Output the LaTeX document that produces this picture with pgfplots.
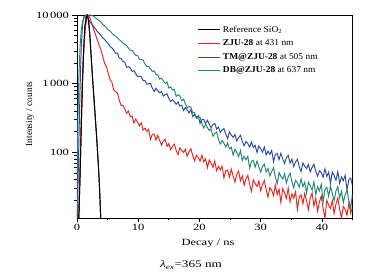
\documentclass[border=0pt]{standalone}
\usepackage{fontspec}
\setmainfont{Liberation Serif}
\newfontfamily\widefont[FakeStretch=1.32]{Liberation Serif}
\newfontfamily\legfont[FakeStretch=1.05]{Liberation Serif}
\usepackage{pgfplots}
\pgfplotsset{compat=1.18}
\definecolor{cred}{RGB}{232,36,32}
\definecolor{cblue}{RGB}{44,72,160}
\definecolor{cteal}{RGB}{34,134,118}
\begin{document}
\begin{tikzpicture}
\useasboundingbox (-77pt,-58pt) rectangle (303pt,218pt);
\begin{axis}[
  at={(0pt,0pt)}, anchor=south west,
  scale only axis, width=275.5pt, height=203pt,
  ymode=log,
  xmin=0, xmax=45, ymin=11, ymax=10000,
  xtick={0,10,20,30,40}, xticklabels={0,10,20,30,40},
  minor xtick={5,15,25,35,45},
  ytick={100,1000,10000}, yticklabels={100,1\,000,10\,000},
  minor ytick={20,30,40,50,60,70,80,90,200,300,400,500,600,700,800,900,2000,3000,4000,5000,6000,7000,8000,9000},
  tick align=outside, tick pos=left,
  major tick length=4.5pt, minor tick length=2.5pt,
  every tick/.style={black, line width=0.7pt},
  axis line style={line width=0.9pt},
  ticklabel style={font=\widefont\fontsize{9.5}{10}\selectfont},
  xticklabel style={inner sep=1.5pt},
  xlabel={Decay / ns}, ylabel={Intensity / counts},
  xlabel style={font=\widefont\fontsize{9.5}{11}\selectfont, at={(axis description cs:0.4755,-0.123)}, anchor=center},
  ylabel style={font=\fontsize{9.4}{11}\selectfont, at={(axis description cs:-0.1706,0.512)}, anchor=center},
  legend style={draw=none, fill=none, at={(0.4392,0.9507)}, anchor=north west, inner sep=0pt, outer sep=0pt, row sep=4pt, column sep=1pt, font=\legfont\fontsize{9}{10}\selectfont, nodes={inner sep=1pt}},
  legend cell align=left,
  legend image code/.code={\draw[#1, line width=1pt] (0pt,0pt) -- (22pt,0pt);},
  every axis plot/.append style={line width=0.95pt},
]
\addplot[black] coordinates {(0.3,11) (0.5,45) (0.7,250) (0.9,1100) (1.1,3300) (1.3,6800) (1.5,9300) (1.7,10000) (1.9,8200) (2.1,5000) (2.3,2600) (2.6,1000) (2.9,420) (3.2,170) (3.5,63) (3.7,28) (3.87,11) (3.95,8)};
\addlegendentry{Reference SiO\textsubscript{2}}
\addplot[cred] coordinates {(0.25,11) (0.4,30) (0.6,150) (0.8,700) (1.0,2000) (1.2,4200) (1.4,6800) (1.6,8800) (1.8,10000) (2.0,9600) (2.2,8600) (2.4,7500) (2.6,6700) (2.8,5900)
(3.0,5310) (3.3,4350) (3.6,3690) (3.9,3120) (4.2,2500) (4.5,1970) (4.8,1770) (5.1,1415) (5.4,1155) (5.7,1052) (6.0,803) (6.3,769) (6.6,722) (6.9,576) (7.2,482) (7.5,480) (7.8,430) (8.1,370) (8.4,400) (8.7,329) (9.0,337) (9.3,268) (9.6,304) (9.9,272) (10.2,242) (10.5,268) (10.8,210) (11.1,224) (11.4,201) (11.7,216) (12.0,153) (12.3,182) (12.6,184) (12.9,150) (13.2,176) (13.5,149) (13.8,127) (14.1,145) (14.4,155) (14.7,122) (15.0,134) (15.3,109) (15.6,121) (15.9,131) (16.2,106) (16.5,92) (16.8,116) (17.1,106) (17.4,98.9) (17.7,110) (18.0,87.2) (18.3,101.9) (18.6,112.8) (18.9,88.9) (19.2,75.0) (19.5,90.3) (19.8,84.3) (20.1,74.0) (20.4,90.8) (20.7,72.7) (21.0,80.1) (21.3,59.3) (21.6,77.3) (21.9,68.9) (22.2,60.2) (22.5,74.2) (22.8,53.6) (23.1,62.2) (23.4,55.2) (23.7,62.6) (24.0,42.3) (24.3,53.5) (24.6,55.1) (24.9,43.1) (25.2,56.5) (25.5,45.5) (25.8,36.8) (26.1,47.6) (26.4,53.0) (26.7,38.3) (27.0,45.4) (27.3,33.1) (27.6,40.5) (27.9,46.0) (28.2,33.9) (28.5,27.0) (28.8,39.7) (29.1,34.9) (29.4,31.7) (29.7,37.9) (30.0,27.5) (30.3,33.8) (30.6,38.6) (30.9,28.7) (31.2,22.2) (31.5,30.5) (31.8,28.1) (32.1,23.3) (32.4,33.0) (32.7,24.2) (33.0,29.1) (33.3,18.6) (33.6,29.4) (33.9,25.4) (34.2,21.2) (34.5,30.1) (34.8,18.9) (35.1,24.7) (35.4,21.3) (35.7,26.5) (36.0,14.6) (36.3,22.2) (36.6,24.0) (36.9,17.7) (37.2,25.0) (37.5,19.5) (37.8,14.5) (38.1,21.6) (38.4,25.5) (38.7,16.5) (39.0,21.3) (39.3,13.8) (39.6,19.0) (39.9,22.9) (40.2,15.2) (40.5,10.9) (40.8,19.9) (41.1,17.0) (41.4,15.1) (41.7,19.8) (42.0,12.8) (42.3,17.7) (42.6,21.5) (42.9,14.8) (43.2,10.9) (43.5,16.2) (43.8,14.8) (44.1,12.0) (44.4,18.1) (44.7,12.8) (45.0,16.0)};
\addlegendentry{\textbf{ZJU-28} at 431 nm}
\addplot[cblue] coordinates {(0.05,11) (0.15,30) (0.3,130) (0.5,850) (0.7,3500) (0.9,7000) (1.1,9300) (1.3,10000) (1.6,9400) (2.0,8300) (2.5,7200)
(3.0,6290) (3.3,5760) (3.6,5441) (3.9,5026) (4.2,4637) (4.5,4422) (4.8,4052) (5.1,3827) (5.4,3475) (5.7,3315) (6.0,3056) (6.3,2768) (6.6,2789) (6.9,2363) (7.2,2324) (7.5,2099) (7.8,2053) (8.1,1729) (8.4,1763) (8.7,1697) (9.0,1507) (9.3,1542) (9.6,1390) (9.9,1263) (10.2,1281) (10.5,1262) (10.8,1108) (11.1,1108) (11.4,983) (11.7,993) (12.0,1007) (12.3,861) (12.6,768) (12.9,856) (13.2,785) (13.5,734) (13.8,766) (14.1,657) (14.4,691) (14.7,710) (15.0,610) (15.3,547) (15.6,583) (15.9,547) (16.2,499) (16.5,540) (16.8,471) (17.1,482) (17.4,406) (17.7,450) (18.0,415) (18.3,373) (18.6,417) (18.9,331) (19.2,355) (19.5,321) (19.8,340) (20.1,262) (20.4,299) (20.7,302) (21.0,260) (21.3,293) (21.6,256) (21.9,228) (22.2,253) (22.5,263) (22.8,218) (23.1,232) (23.4,195) (23.7,211) (24.0,221) (24.3,184) (24.6,158) (24.9,197) (25.2,178) (25.5,165) (25.8,181) (26.1,146) (26.4,164) (26.7,177) (27.0,144) (27.3,124) (27.6,143) (27.9,134) (28.2,119) (28.5,141) (28.8,117) (29.1,126) (29.4,99.3) (29.7,123) (30.0,112) (30.3,100) (30.6,119) (30.9,91.0) (31.2,103.8) (31.5,93.0) (31.8,106.3) (32.1,72.5) (32.4,92.6) (32.7,96.2) (33.0,78.0) (33.3,96.4) (33.6,80.6) (33.9,68.2) (34.2,82.9) (34.5,90.3) (34.8,69.5) (35.1,79.2) (35.4,61.7) (35.7,71.9) (36.0,79.2) (36.3,62.1) (36.6,52.1) (36.9,69.8) (37.2,62.8) (37.5,57.9) (37.8,66.4) (38.1,51.5) (38.4,60.3) (38.7,66.9) (39.0,52.8) (39.3,44.7) (39.6,53.8) (39.9,50.4) (40.2,43.2) (40.5,57.3) (40.8,44.3) (41.1,51.3) (41.4,35.5) (41.7,51.3) (42.0,45.3) (42.3,39.1) (42.6,52.0) (42.9,35.3) (43.2,43.8) (43.5,38.5) (43.8,46.0) (44.1,28.4) (44.4,39.6) (44.7,42.0) (45.0,32.4)};
\addlegendentry{\textbf{TM@ZJU-28} at 505 nm}
\addplot[cteal] coordinates {(0.0,11) (0.05,60) (0.15,300) (0.3,1200) (0.5,3500) (0.7,6000) (0.9,8000) (1.2,9400) (1.6,9950) (2.0,10000) (2.4,9900) (2.7,9600)
(3.0,9100) (3.3,8766) (3.6,8244) (3.9,7933) (4.2,7240) (4.5,6947) (4.8,6559) (5.1,6051) (5.4,5849) (5.7,5450) (6.0,5091) (6.3,4906) (6.6,4695) (6.9,4350) (7.2,4182) (7.5,3886) (7.8,3740) (8.1,3569) (8.4,3297) (8.7,3072) (9.0,3043) (9.3,2790) (9.6,2583) (9.9,2564) (10.2,2246) (10.5,2239) (10.8,2208) (11.1,1942) (11.4,1758) (11.7,1771) (12.0,1650) (12.3,1507) (12.6,1535) (12.9,1360) (13.2,1337) (13.5,1161) (13.8,1201) (14.1,1101) (14.4,1005) (14.7,1058) (15.0,863) (15.3,892) (15.6,806) (15.9,826) (16.2,650) (16.5,688) (16.8,663) (17.1,564) (17.4,593) (17.7,511) (18.0,446) (18.3,462) (18.6,456) (18.9,373) (19.2,382) (19.5,309) (19.8,321) (20.1,325) (20.4,263) (20.7,225) (21.0,257) (21.3,229) (21.6,207) (21.9,219) (22.2,171) (22.5,188) (22.8,197) (23.1,156) (23.4,132) (23.7,148) (24.0,135) (24.3,119) (24.6,137) (24.9,112) (25.2,118) (25.5,90.7) (25.8,110) (26.1,98.9) (26.4,85.9) (26.7,105.4) (27.0,75.9) (27.3,87.6) (27.6,77.3) (27.9,87.1) (28.2,58.5) (28.5,73.9) (28.8,75.8) (29.1,60.7) (29.4,74.2) (29.7,61.4) (30.0,51.4) (30.3,62.1) (30.6,67.2) (30.9,51.4) (31.2,58.2) (31.5,45.1) (31.8,52.2) (32.1,59.4) (32.4,43.7) (32.7,34.6) (33.0,50.7) (33.3,44.6) (33.6,40.7) (33.9,48.6) (34.2,35.4) (34.5,43.7) (34.8,49.9) (35.1,37.4) (35.4,30.3) (35.7,39.0) (36.0,36.1) (36.3,30.9) (36.6,40.9) (36.9,31.5) (37.2,36.6) (37.5,25.4) (37.8,36.6) (38.1,32.4) (38.4,27.9) (38.7,37.1) (39.0,24.2) (39.3,31.7) (39.6,27.2) (39.9,34.0) (40.2,18.8) (40.5,28.7) (40.8,30.9) (41.1,22.8) (41.4,32.2) (41.7,25.2) (42.0,19.6) (42.3,27.3) (42.6,31.5) (42.9,21.6) (43.2,26.9) (43.5,18.5) (43.8,24.1) (44.1,28.4) (44.4,19.9) (44.7,15.2) (45.0,24.8)};
\addlegendentry{\textbf{DB@ZJU-28} at 637 nm}
\addplot[black, forget plot] coordinates {(0.3,11) (0.5,45) (0.7,250) (0.9,1100) (1.1,3300) (1.3,6800) (1.5,9300) (1.7,10000) (1.9,8200) (2.1,5000) (2.3,2600) (2.6,1000) (2.9,420) (3.2,170) (3.5,63) (3.7,28) (3.87,11) (3.95,8)};
\end{axis}
\node[font=\widefont\fontsize{10}{12}\selectfont] at (114pt,-47pt) {\textit{λ}\textsubscript{\textit{ex}}=365 nm};
\end{tikzpicture}
\end{document}
